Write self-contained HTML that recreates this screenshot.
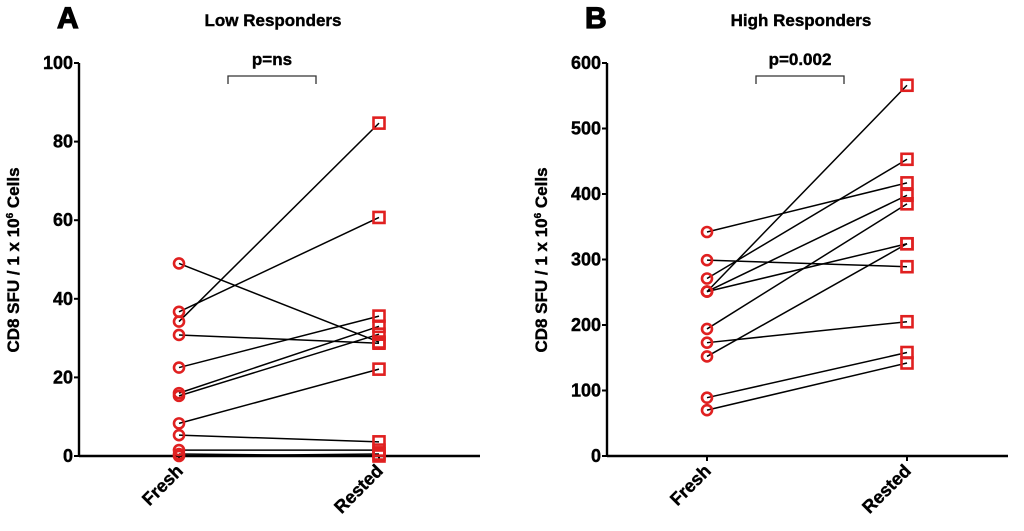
<!DOCTYPE html>
<html><head><meta charset="utf-8"><style>
body{margin:0;background:#fff}
svg{display:block;font-family:"Liberation Sans",Arial,sans-serif;font-weight:bold}
</style></head><body>
<svg id="chart" width="1024" height="531" viewBox="0 0 1024 531"></svg>
<script>
const lowFresh=[49,36.7,34.2,30.8,22.5,16,15.3,8.3,5.3,1.5,0.5,0];
const lowRested=[29,60.7,84.7,28.7,35.6,33,31,22.1,3.6,1.5,0,0.5];
const highFresh=[342,299,271,251,251,251,194,173,152,89,70];
const highRested=[417,289,453,566,398,324,385,205,324,158,142];
const lowTicks=[0,20,40,60,80,100];
const highTicks=[0,100,200,300,400,500,600];
const categories=["Fresh","Rested"];
const NS="http://www.w3.org/2000/svg";
const svg=document.getElementById('chart');
function mk(t,a,p){const e=document.createElementNS(NS,t);for(const k in a)e.setAttribute(k,a[k]);(p||svg).appendChild(e);return e;}
function panel(o){
  const g=mk('g',{});
  
  
  const y=v=>456-(v/o.max)*393;
  const x=i=>o.ax+100+i*200;
  const heavy={stroke:'#000','stroke-width':0.4};
  let t=mk('text',{x:o.ax-22,y:28,'font-size':30,fill:'#000',stroke:'#000','stroke-width':1.2},g);t.textContent=o.letter;
  
  t=mk('text',{x:o.ax+194,y:26,'font-size':17,'text-anchor':'middle',...heavy},g);t.textContent=o.title;
  
  t=mk('text',{x:o.ax+193,y:65,'font-size':17,'text-anchor':'middle',...heavy},g);t.textContent=o.p;
  
  const b=mk('path',{d:`M${o.ax+149} 84V76H${o.ax+237}V84`,fill:'none',stroke:'#333','stroke-width':1.3},g);
  
  const ya=mk('path',{d:`M${o.ax} ${y(o.max)}V456`,stroke:'#000','stroke-width':2.4,fill:'none'},g);
  
  const xa=mk('path',{d:`M${o.ax} 456H${o.ax+401}`,stroke:'#000','stroke-width':2.4,fill:'none'},g);
  
  o.ticks.forEach(v=>{
    mk('path',{d:`M${o.ax-5} ${y(v)}H${o.ax}`,stroke:'#000','stroke-width':2},g);
    const l=mk('text',{x:o.ax-6,y:y(v)+6,'font-size':18,'text-anchor':'end',...heavy},g);l.textContent=v;
    
  });
  categories.forEach((c,i)=>{
    mk('path',{d:`M${x(i)} 456V461`,stroke:'#000','stroke-width':2},g);
    const l=mk('text',{x:x(i)+5,y:472,'font-size':18,'text-anchor':'end',transform:`rotate(-45 ${x(i)+5} 472)`,...heavy},g);l.textContent=c;
    
  });
  const yt=mk('text',{x:0,y:0,'font-size':17,'text-anchor':'middle',transform:`translate(${o.ax-60},260) rotate(-90)`,...heavy},g);
  yt.innerHTML='CD8 SFU / 1 x 10<tspan dy="-6" font-size="10">6</tspan><tspan dy="6"> Cells</tspan>';
  
  o.fresh.forEach((v,i)=>{
    const ln=mk('line',{x1:x(0),y1:y(v),x2:x(1),y2:y(o.rested[i]),stroke:'#000','stroke-width':1.5},g);
    
  });
  o.fresh.forEach(v=>{
    const c=mk('circle',{cx:x(0),cy:y(v),r:5,fill:'none',stroke:'#e02020','stroke-width':2.6},g);
    
  });
  o.rested.forEach(v=>{
    const r=mk('rect',{x:x(1)-5.5,y:y(v)-5.5,width:11,height:11,fill:'none',stroke:'#e02020','stroke-width':2.6},g);
    
  });
}
panel({name:'panel-a-low-responders',ax:79,max:100,ticks:lowTicks,fresh:lowFresh,rested:lowRested,letter:'A',title:'Low Responders',p:'p=ns'});
panel({name:'panel-b-high-responders',ax:607,max:600,ticks:highTicks,fresh:highFresh,rested:highRested,letter:'B',title:'High Responders',p:'p=0.002'});
</script>
</body></html>
